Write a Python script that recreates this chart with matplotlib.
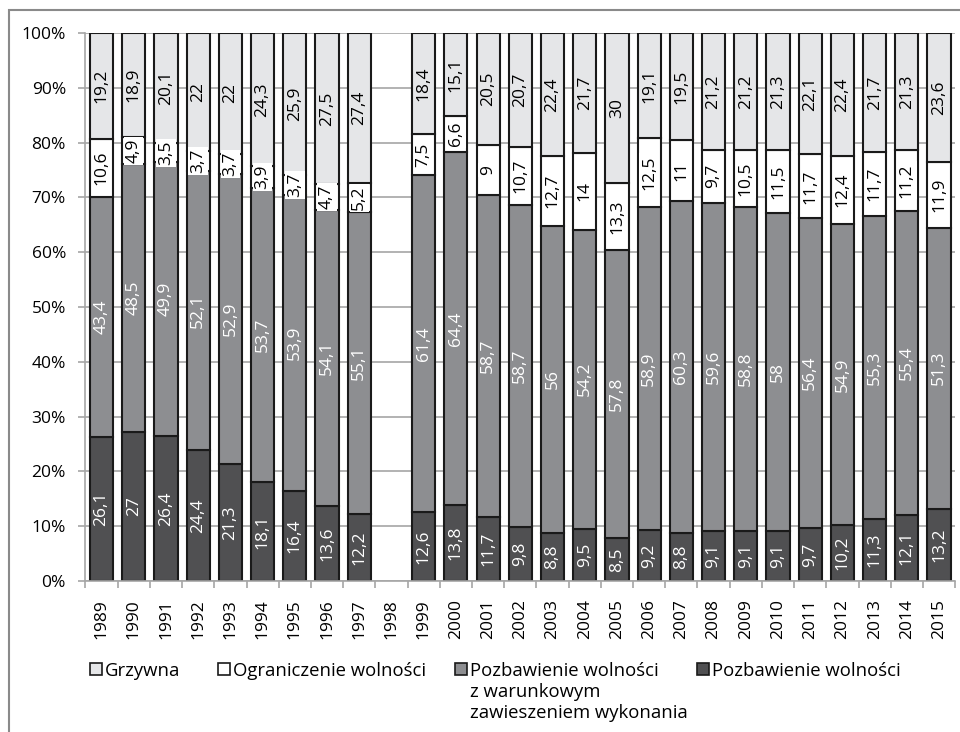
import matplotlib.pyplot as plt
import numpy as np
from matplotlib.patches import Rectangle

plt.rcParams['font.family'] = ['Open Sans', 'DejaVu Sans']

years = [str(y) for y in range(1989, 2016)]

# None marks the year without data (1998)
pozbawienie = [26.1, 27, 26.4, 24.4, 21.3, 18.1, 16.4, 13.6, 12.2, None,
               12.6, 13.8, 11.7, 9.8, 8.8, 9.5, 8.5, 9.2, 8.8, 9.1,
               9.1, 9.1, 9.7, 10.2, 11.3, 12.1, 13.2]
zawieszenie = [43.4, 48.5, 49.9, 52.1, 52.9, 53.7, 53.9, 54.1, 55.1, None,
               61.4, 64.4, 58.7, 58.7, 56, 54.2, 57.8, 58.9, 60.3, 59.6,
               58.8, 58, 56.4, 54.9, 55.3, 55.4, 51.3]
ograniczenie = [10.6, 4.9, 3.5, 3.7, 3.7, 3.9, 3.7, 4.7, 5.2, None,
                7.5, 6.6, 9, 10.7, 12.7, 14, 13.3, 12.5, 11, 9.7,
                10.5, 11.5, 11.7, 12.4, 11.7, 11.2, 11.9]
grzywna = [19.2, 18.9, 20.1, 22, 22, 24.3, 25.9, 27.5, 27.4, None,
           18.4, 15.1, 20.5, 20.7, 22.4, 21.7, 30, 19.1, 19.5, 21.2,
           21.2, 21.3, 22.1, 22.4, 21.7, 21.3, 23.6]

series = [
    (pozbawienie, '#505052', 'white'),
    (zawieszenie, '#8d8e91', 'white'),
    (ograniczenie, '#ffffff', 'black'),
    (grzywna, '#e5e6e8', 'black'),
]

FS = 12.5

fig = plt.figure(figsize=(9.6, 7.32), dpi=100)
ax = fig.add_axes([0.089, 0.2063, 0.906, 0.7486])

x = np.arange(len(years))
width = 0.72

for i in x:
    vals = [s[0][i] for s in series]
    if vals[0] is None:
        continue
    total = sum(vals)
    bottom = 0.0
    for (data, color, tcolor) in series:
        v = data[i]
        h = v / total * 100
        ax.bar(i, h, width=width, bottom=bottom, color=color,
               edgecolor='#1a1a1a', linewidth=1.5, zorder=2)
        label = f"{v:g}".replace('.', ',')
        kw = {}
        if color == '#ffffff':
            kw['bbox'] = dict(boxstyle='square,pad=0.1', facecolor='white',
                              edgecolor='none')
        ax.text(i, bottom + h / 2, label, rotation=90, ha='center',
                va='center', color=tcolor, fontsize=FS, zorder=3, **kw)
        bottom += h

ax.set_xlim(-0.5, len(years) - 0.5)
ax.set_ylim(0, 100)
ax.set_yticks(np.arange(0, 101, 10))
ax.set_yticklabels([f"{t}%" for t in range(0, 101, 10)], fontsize=FS)
ax.yaxis.grid(True, color='#a6a6a6', linewidth=1.2, zorder=0)
ax.set_axisbelow(True)

ax.set_xticks(x)
ax.set_xticklabels(years, rotation=90, fontsize=FS)
ax.set_xticks(np.arange(-0.5, len(years), 1), minor=True)
ax.tick_params(axis='x', which='major', length=0, pad=13)
ax.tick_params(axis='x', which='minor', length=5, color='#a6a6a6',
               width=1.2)
ax.tick_params(axis='y', length=5, color='#a6a6a6', width=1.2, pad=9)

for side in ['top', 'right']:
    ax.spines[side].set_visible(False)
for side in ['left', 'bottom']:
    ax.spines[side].set_color('#a6a6a6')
    ax.spines[side].set_linewidth(1.2)

# legend drawn by hand so the wrapped label lines up with its marker
W, H = 960, 732
legend_items = [
    (90, '#e5e6e8', ['Grzywna']),
    (218, '#ffffff', ['Ograniczenie wolności']),
    (455, '#8d8e91', ['Pozbawienie wolności', 'z warunkowym',
                      'zawieszeniem wykonania']),
    (697, '#505052', ['Pozbawienie wolności']),
]
for px, color, lines in legend_items:
    fig.add_artist(Rectangle((px / W, 1 - 675 / H), 12 / W, 12 / H,
                             transform=fig.transFigure, facecolor=color,
                             edgecolor='#1a1a1a', linewidth=1.2))
    for k, line in enumerate(lines):
        fig.text((px + 15) / W, 1 - (676 + 21 * k) / H, line, ha='left',
                 va='baseline', fontsize=13.3)

# thin frame around the whole chart
fig.add_artist(Rectangle((9 / W, -0.05), 1.0, 1 - 10 / H + 0.05,
                         transform=fig.transFigure, facecolor='none',
                         edgecolor='#8a8a8a', linewidth=1.5))

fig.savefig('out.png', dpi=100)
